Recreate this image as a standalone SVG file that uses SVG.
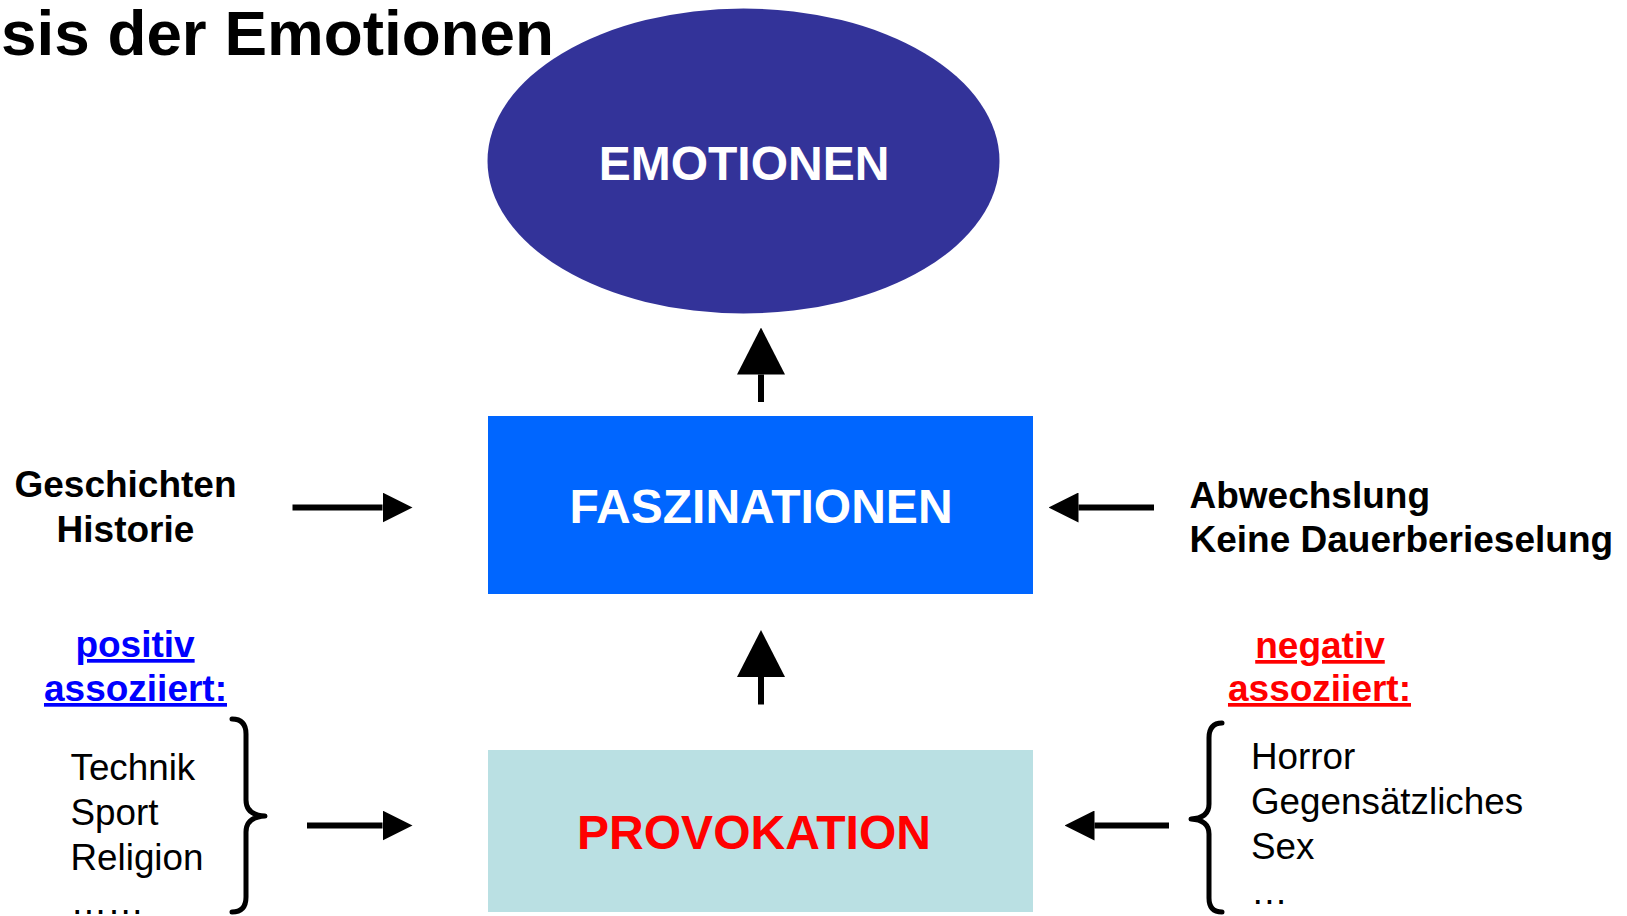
<svg xmlns="http://www.w3.org/2000/svg" width="1627" height="916" viewBox="0 0 1627 916">
  <style>
    text { font-family: "Liberation Sans", Arial, Helvetica, sans-serif; }
    .big { font-size: 48px; font-weight: bold; text-anchor: middle; }
    .lbl { font-size: 37px; font-weight: bold; }
    .item { font-size: 36.8px; fill: #000; }
    .conn { stroke: #000; stroke-width: 6; fill: none; }
    .brace { stroke: #000; stroke-width: 5; fill: none; stroke-linecap: round; stroke-linejoin: round; }
  </style>
  <defs>
    <marker id="head-s" markerUnits="userSpaceOnUse" markerWidth="30" markerHeight="30" refX="0" refY="15" orient="auto">
      <path d="M0,0 L30,15 L0,30 z" fill="#000"/>
    </marker>
    <marker id="head-l" markerUnits="userSpaceOnUse" markerWidth="47" markerHeight="48" refX="0" refY="24" orient="auto">
      <path d="M0,0 L47,24 L0,48 z" fill="#000"/>
    </marker>
  </defs>

  <rect width="1627" height="916" fill="#fff"/>

  <!-- top node -->
  <g id="emotionen">
    <ellipse cx="743.5" cy="161" rx="256" ry="152.5" fill="#333399"/>
    <text class="big" x="744" y="179.5" fill="#fff">EMOTIONEN</text>
  </g>

  <!-- heading, partly off the left edge -->
  <g id="title">
    <text x="1" y="55" font-size="63.8" font-weight="bold" fill="#000">sis der Emotionen</text>
  </g>

  <g id="faszinationen">
    <rect x="488" y="416" width="545" height="178" fill="#0066FF"/>
    <text class="big" x="761" y="523" fill="#fff">FASZINATIONEN</text>
  </g>

  <g id="provokation">
    <rect x="488" y="750" width="545" height="162" fill="#BAE0E3"/>
    <text class="big" x="754" y="849" fill="#FF0000" font-size="47">PROVOKATION</text>
  </g>

  <g id="geschichten">
    <text class="lbl" x="125.5" y="497" text-anchor="middle">Geschichten</text>
    <text class="lbl" x="125.5" y="542" text-anchor="middle">Historie</text>
  </g>

  <g id="abwechslung">
    <text class="lbl" x="1189.5" y="507.5">Abwechslung</text>
    <text class="lbl" x="1189.5" y="552">Keine Dauerberieselung</text>
  </g>

  <g id="positiv">
    <text class="lbl" x="135" y="657" text-anchor="middle" fill="#0000FF" text-decoration="underline">positiv</text>
    <text class="lbl" x="135.5" y="701" text-anchor="middle" fill="#0000FF" text-decoration="underline">assoziiert:</text>
    <text class="item" x="70.5" y="780">Technik</text>
    <text class="item" x="70.5" y="824.5">Sport</text>
    <text class="item" x="70.5" y="870">Religion</text>
    <text class="item" x="70.5" y="914">……</text>
    <path class="brace" d="M232,719 Q246,719 246,734 L246,800 Q246,815 265,816 Q246,817 246,832 L246,897 Q246,912 232,912"/>
  </g>

  <g id="negativ">
    <text class="lbl" x="1320" y="658" text-anchor="middle" fill="#FF0000" text-decoration="underline">negativ</text>
    <text class="lbl" x="1319.5" y="701" text-anchor="middle" fill="#FF0000" text-decoration="underline">assoziiert:</text>
    <text class="item" x="1251" y="769">Horror</text>
    <text class="item" x="1251" y="813.5">Gegensätzliches</text>
    <text class="item" x="1251" y="858.5">Sex</text>
    <text class="item" x="1251" y="904">…</text>
    <path class="brace" d="M1222,723 Q1209,723 1209,738 L1209,804 Q1209,818 1191,819 Q1209,820 1209,834 L1209,898 Q1209,912 1222,912"/>
  </g>

  <!-- connectors -->
  <g id="connectors">
    <line class="conn" x1="761" y1="402" x2="761" y2="374.5" marker-end="url(#head-l)"/>
    <line class="conn" x1="761" y1="704.5" x2="761" y2="677" marker-end="url(#head-l)"/>
    <line class="conn" x1="292.5" y1="507.5" x2="382.5" y2="507.5" marker-end="url(#head-s)"/>
    <line class="conn" x1="1154" y1="507.5" x2="1078.5" y2="507.5" marker-end="url(#head-s)"/>
    <line class="conn" x1="307" y1="825.5" x2="382.5" y2="825.5" marker-end="url(#head-s)"/>
    <line class="conn" x1="1169" y1="825.5" x2="1094.5" y2="825.5" marker-end="url(#head-s)"/>
  </g>
</svg>
